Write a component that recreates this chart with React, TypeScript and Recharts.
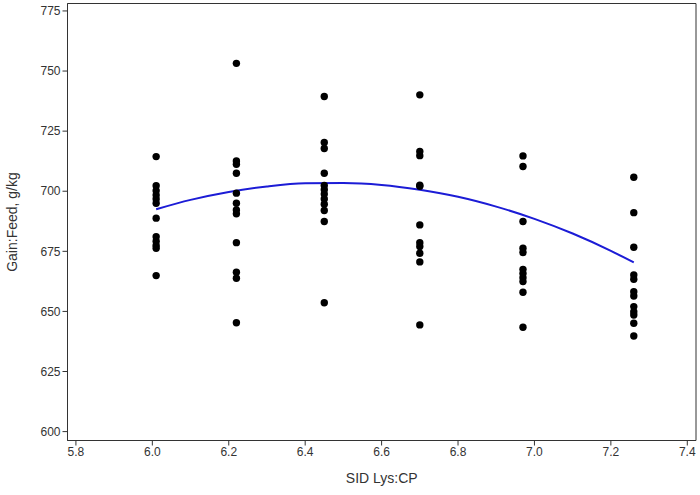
import React from "react";
import {
  ComposedChart,
  Scatter,
  Line,
  XAxis,
  YAxis,
  ReferenceArea,
  Label,
} from "recharts";

// SID Lys:CP treatment levels
const lysLevels = [6.01, 6.22, 6.45, 6.7, 6.97, 7.26];

// Individual pen Gain:Feed (g/kg) for each level
const gf601 = [714.4, 702.3, 700.2, 698.4, 696.8, 695.0, 688.8, 681.1, 679.2, 677.4, 676.3, 664.9];
const gf622 = [753.2, 712.6, 711.2, 707.5, 699.2, 695.0, 692.2, 690.6, 678.6, 666.3, 663.8, 645.3];
const gf645 = [739.4, 720.3, 717.8, 707.5, 702.4, 700.6, 698.8, 696.8, 694.6, 692.0, 687.4, 653.6];
const gf670 = [740.1, 716.5, 714.8, 702.5, 702.1, 686.0, 678.6, 677.0, 674.2, 670.6, 644.4];
const gf697 = [714.7, 710.3, 687.4, 676.3, 674.5, 667.5, 665.8, 664.0, 662.4, 658.0, 643.4];
const gf726 = [705.8, 691.1, 676.7, 665.2, 663.4, 658.2, 656.4, 652.0, 649.9, 648.5, 645.1, 639.8];

// Fitted quadratic response, read at these SID Lys:CP values
const fitX = [6.01, 6.1, 6.2, 6.3, 6.4, 6.5, 6.6, 6.7, 6.8, 6.9, 7.0, 7.1, 7.2, 7.26];
const fitY = [692.5, 696.4, 699.7, 702.0, 703.3, 703.4, 702.6, 700.6, 697.7, 693.6, 688.5, 682.4, 675.2, 670.4];

const xTicks = [5.8, 6.0, 6.2, 6.4, 6.6, 6.8, 7.0, 7.2, 7.4];
const yTicks = [600, 625, 650, 675, 700, 725, 750, 775];

const xDomain: [number, number] = [5.778, 7.4228];
const yDomain: [number, number] = [596.3, 778.1];

const groups = [gf601, gf622, gf645, gf670, gf697, gf726];
const points = groups.flatMap((vals, i) => vals.map((y) => ({ x: lysLevels[i], y })));
const fitData = fitX.map((x, i) => ({ x, y: fitY[i] }));

const FONT = "'Liberation Sans', Arial, sans-serif";
const INK = "#333333";

const Dot = (props: any) => {
  const { cx, cy } = props;
  if (cx == null || cy == null) return null;
  return <circle cx={cx} cy={cy} r={3.7} fill="#000000" />;
};

export default function App() {
  return (
    <div style={{ position: "absolute", left: 0, top: 0, width: 700, height: 495, background: "#fff" }}>
      <ComposedChart
        width={700}
        height={495}
        margin={{ top: 3.5, right: 4, left: 0, bottom: 0 }}
      >
        <XAxis
          type="number"
          dataKey="x"
          domain={xDomain}
          ticks={xTicks}
          allowDataOverflow
          tickFormatter={(v: number) => v.toFixed(1)}
          height={54.5}
          stroke={INK}
          tickSize={5}
          tick={{ fill: INK, fontSize: 12, fontFamily: FONT }}
        >
          <Label
            value="SID Lys:CP"
            position="insideBottom"
            offset={12}
            style={{ fill: INK, fontSize: 14, fontFamily: FONT }}
          />
        </XAxis>
        <YAxis
          type="number"
          dataKey="y"
          domain={yDomain}
          ticks={yTicks}
          allowDataOverflow
          width={67.5}
          stroke={INK}
          tickSize={5}
          tick={{ fill: INK, fontSize: 12, fontFamily: FONT }}
        >
          <Label
            value="Gain:Feed, g/kg"
            angle={-90}
            position="insideLeft"
            offset={0}
            dx={12}
            style={{ fill: INK, fontSize: 14, fontFamily: FONT, textAnchor: "middle" }}
          />
        </YAxis>
        <ReferenceArea
          x1={xDomain[0]}
          x2={xDomain[1]}
          y1={yDomain[0]}
          y2={yDomain[1]}
          fill="none"
          stroke={INK}
          strokeWidth={1}
          ifOverflow="extendDomain"
        />
        <Scatter data={points} dataKey="y" shape={<Dot />} isAnimationActive={false} />
        <Line
          data={fitData}
          dataKey="y"
          type="monotone"
          stroke="#1c1cd6"
          strokeWidth={2}
          dot={false}
          activeDot={false}
          isAnimationActive={false}
        />
      </ComposedChart>
    </div>
  );
}
